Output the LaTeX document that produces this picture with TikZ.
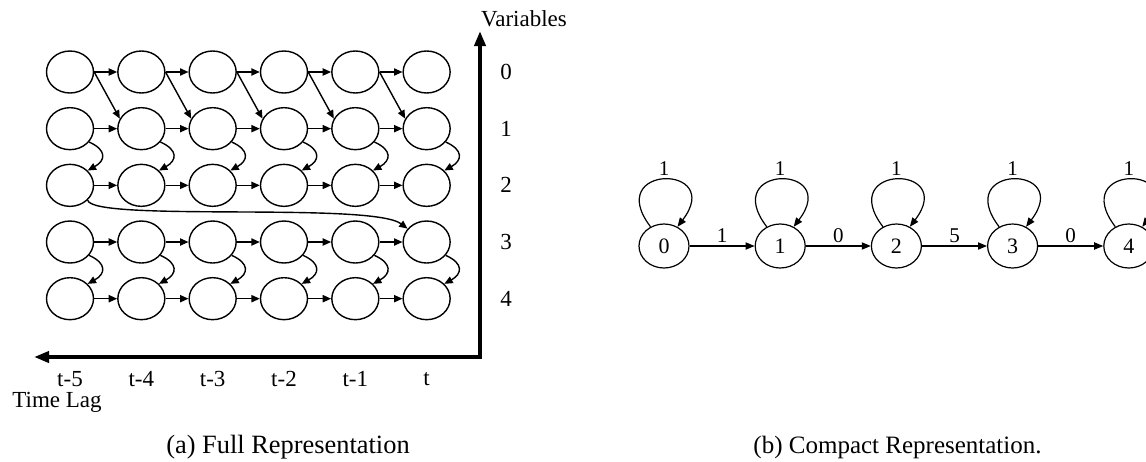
\documentclass[tikz,border=0pt]{standalone}
\usepackage{fontspec}
\setmainfont{Liberation Serif}
\usetikzlibrary{arrows.meta,positioning,shapes.geometric}

\begin{document}
\begin{tikzpicture}[
  x=0.5pt, y=-0.5pt,
  node distance=32.5pt,
  var/.style={draw, ellipse, line width=0.7pt, minimum width=23.5pt,
              minimum height=21pt, inner sep=0pt},
  stat/.style={draw, ellipse, line width=0.6pt, minimum width=25pt,
              minimum height=22pt, inner sep=0pt, font=\fontsize{11}{13}\selectfont},
  arr/.style={-{Triangle[length=4.2pt,width=3.6pt]}, line width=0.7pt},
  arrb/.style={-{Triangle[length=4.5pt,width=3.6pt]}, line width=0.6pt},
  axis/.style={{Triangle[length=7.5pt,width=5.5pt]}-{Triangle[length=7.5pt,width=5.5pt]},
              line width=2pt, line join=miter},
  lbl/.style={font=\fontsize{11.5}{14}\selectfont, inner sep=0pt},
  captext/.style={font=\fontsize{12.5}{15}\selectfont, inner sep=0pt},
  num/.style={font=\fontsize{10.5}{12}\selectfont, inner sep=1.5pt}
]
\useasboundingbox (0,0) rectangle (1146,461);

% (a) full representation
\foreach \r in {0,...,4}
  \foreach \c in {0,...,5}
    \node[var] (v-\r-\c) at ({70+71.33*\c},{72+56.67*\r}) {};

\foreach \r in {0,...,4}
  \foreach \c [count=\n from 1] in {0,...,4}
    \draw[arr] (v-\r-\c.east) -- (v-\r-\n.west);
\foreach \c [count=\n from 1] in {0,...,4}
  \draw[arr] (v-0-\c.east) -- (v-1-\n.155);
\foreach \c in {0,...,5} {
  \draw[arr] (v-1-\c.-35) .. controls +(18,8) and +(18,-10) .. (v-2-\c.40);
  \draw[arr] (v-3-\c.-35) .. controls +(18,8) and +(18,-10) .. (v-4-\c.40);
}
\draw[arr] (v-2-0.-40) .. controls +(5,22) and +(-36,-27) .. (v-3-5.145);

\coordinate (corner) at (480,357);
\coordinate (vtip) at (480,31);
\coordinate (htip) at (34,357);
\draw[axis] (vtip) -- (corner) -- (htip);

\node[lbl] (vars) at (524,19) {Variables};
\foreach \r in {0,...,4}
  \node[lbl] (var\r) at (506,{72+56.67*\r}) {\r};
\foreach \c/\t in {0/t-5,1/t-4,2/t-3,3/t-2,4/t-1,5/t}
  \node[lbl] (lag\c) at ({70+71.33*\c},379) {\t};
\node[lbl] (lag) at (57,402) {Time Lag};
\node[captext, font=\fontsize{13.2}{16}\selectfont] (capa) at (288,447) {(a) Full Representation};

% (b) compact representation
\node[stat] (s0) at (664,246) {0};
\node[stat, right=of s0] (s1) {1};
\node[stat, right=of s1] (s2) {2};
\node[stat, right=of s2] (s3) {3};
\node[stat, right=of s3] (s4) {4};

\draw[arrb] (s0) -- node[num, above] {1} (s1);
\draw[arrb] (s1) -- node[num, above] {0} (s2);
\draw[arrb] (s2) -- node[num, above] {5} (s3);
\draw[arrb] (s3) -- node[num, above] {0} (s4);
\foreach \s in {0,...,4}
  \draw[arrb] (s\s.125) .. controls +(-48,-63) and +(48,-63) .. node[num, above] {1} (s\s.55);

\node[captext, anchor=east] (capb) at (1042,447) {(b) Compact Representation.};
\end{tikzpicture}
\end{document}
